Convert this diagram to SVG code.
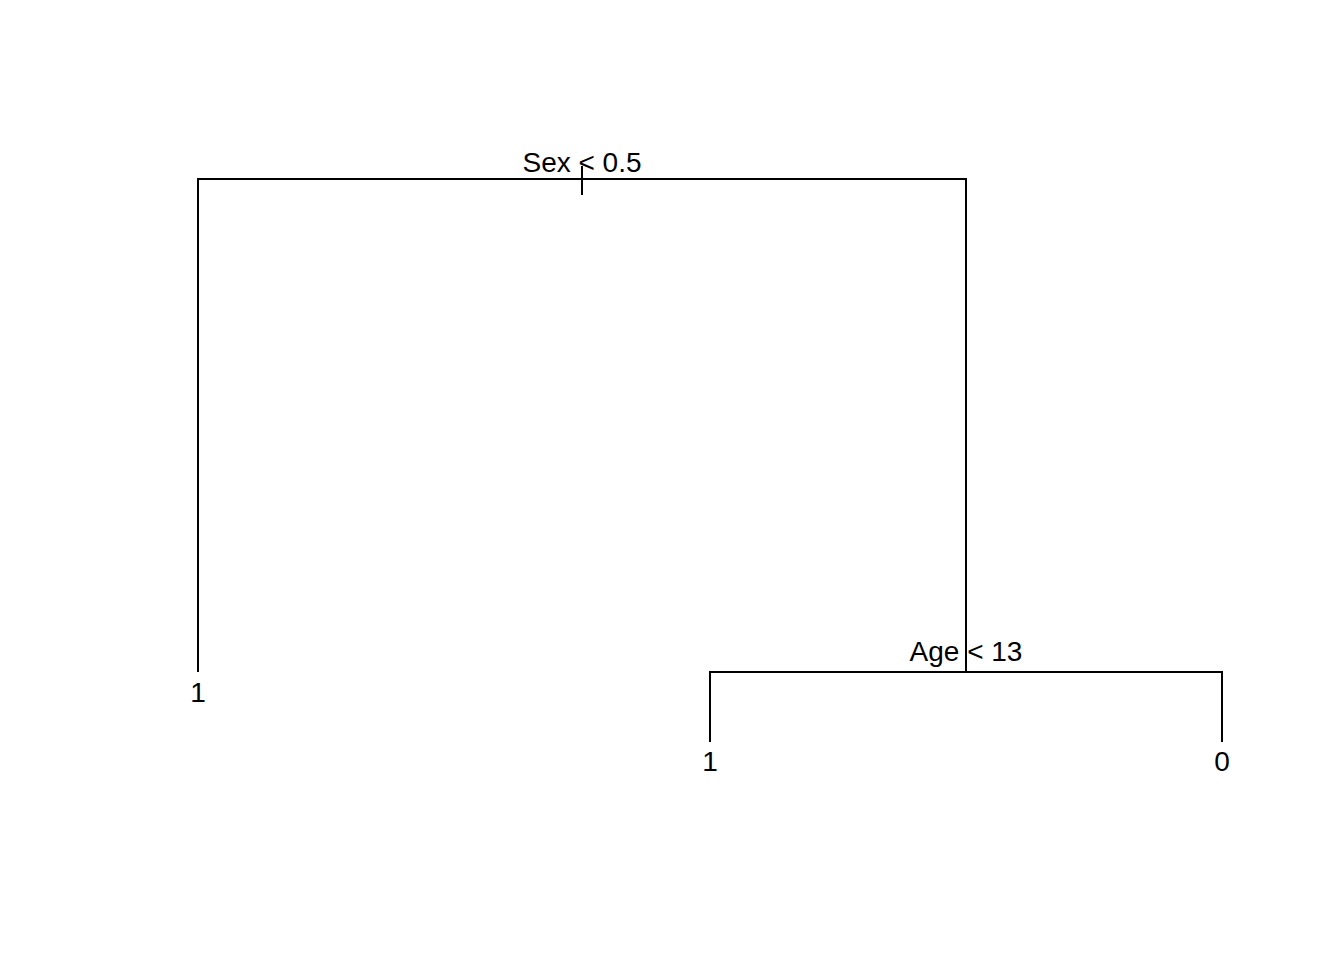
<svg xmlns="http://www.w3.org/2000/svg" width="1344" height="960" viewBox="0 0 1344 960">
<style>
.e{stroke:#000;stroke-width:2;fill:none;stroke-linecap:butt}
.t{font-family:"Liberation Sans",Arial,sans-serif;font-size:28px;fill:#000;text-anchor:middle}
</style>
<rect width="1344" height="960" fill="#fff"/>
<g id="connectors">
<path class="e" d="M198,672 V179 H966 V672"/>
<path class="e" d="M710,742 V672 H1222 V742"/>
<path class="e" d="M582,166 V195"/>
</g>
<g id="node-root"><text class="t" x="582" y="172">Sex &lt; 0.5</text></g>
<g id="node-age"><text class="t" x="966" y="661">Age &lt; 13</text></g>
<g id="leaf-left"><text class="t" x="198" y="702">1</text></g>
<g id="leaf-mid"><text class="t" x="710" y="771">1</text></g>
<g id="leaf-right"><text class="t" x="1222" y="771">0</text></g>
</svg>
